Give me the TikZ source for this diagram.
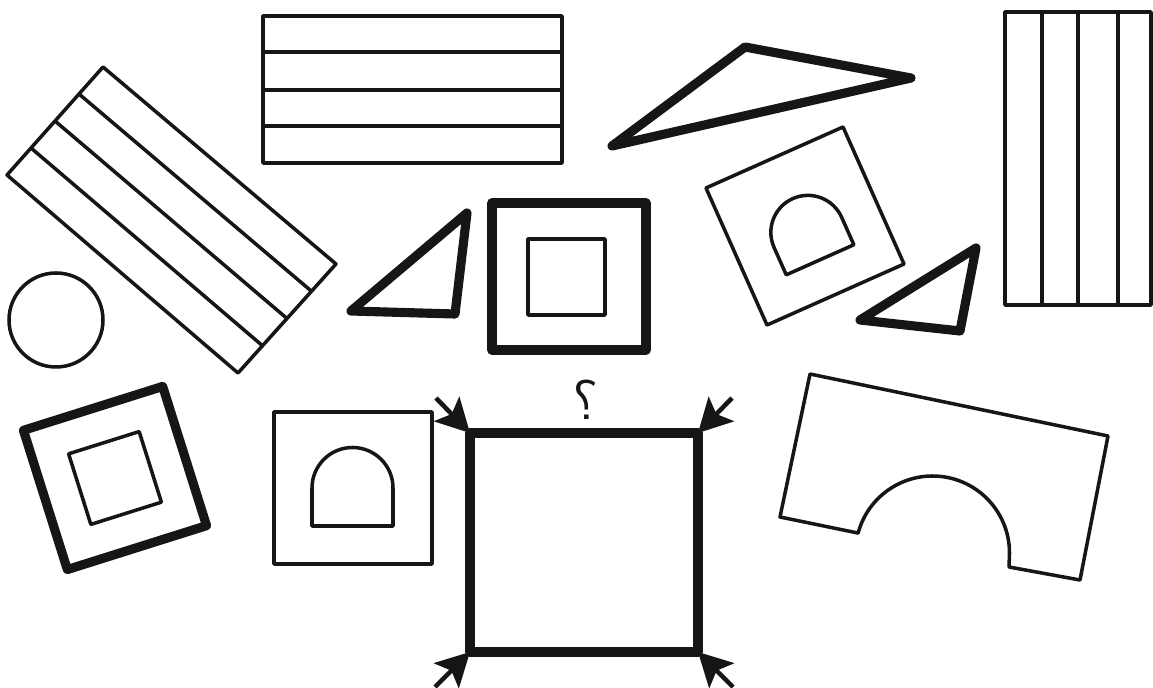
\documentclass[tikz,border=0pt]{standalone}
\usetikzlibrary{arrows.meta,calc}
\begin{document}
\begin{tikzpicture}[x=0.02cm,y=-0.02cm,line join=round]
  \definecolor{ink}{HTML}{161616}
  \path[use as bounding box] (0,0) rectangle (1153,688);
  \tikzset{outline/.style={draw=ink,line width=2pt},
           heavy/.style={draw=ink,line width=5.2pt},
           pointer/.style={ink,line width=2.6pt,-{Stealth[length=19pt,width=20pt,inset=4pt]}}}

  % Striped boards: a tilted one, a flat one and an upright one.
  \coordinate (pa) at (103,67);
  \coordinate (pb) at (336,264);
  \coordinate (pc) at (238,373);
  \coordinate (pd) at (7,175);
  \draw[outline] (pa) -- (pb) -- (pc) -- (pd) -- cycle;
  \foreach \f in {0.25,0.5,0.75}
    \draw[outline] ($(pa)!\f!(pd)$) -- ($(pb)!\f!(pc)$);
  \draw[outline] (263,16) rectangle (562,163);
  \foreach \y in {52,90,126}
    \draw[outline] (263,\y) -- (562,\y);
  \draw[outline] (1005,12) rectangle (1151,305);
  \foreach \x in {1042,1078,1118}
    \draw[outline] (\x,12) -- (\x,305);

  \draw[outline] (56,320) circle (47);

  % Triangles
  \draw[heavy] (612,146) -- (745,47) -- (911,78) -- cycle;
  \draw[heavy] (351,311) -- (467,213) -- (455,314) -- cycle;
  \draw[heavy] (860,320) -- (976,248) -- (960,331) -- cycle;

  % Framed squares
  \draw[heavy] (492,203) rectangle (646,350);
  \draw[outline] (528,239) rectangle (605,315);
  \begin{scope}[shift={(115,478)},rotate=17.5]
    \draw[heavy] (-73,-73) rectangle (73,73);
    \draw[outline] (-37,-37) rectangle (37,37);
  \end{scope}

  % Squares with an arched window
  \draw[outline] (274,412) rectangle (432,564);
  \draw[outline] (312,526) -- (312,488) arc[start angle=180,end angle=360,radius=40.5]
    -- (393,526) -- cycle;
  \begin{scope}[shift={(805,226)},rotate=24]
    \draw[outline] (-75,-75) rectangle (75,75);
    \draw[outline] (-37,37) -- (-37,7) arc[start angle=180,end angle=360,radius=37]
      -- (37,37) -- cycle;
  \end{scope}

  % Bridge block
  \draw[outline] (810,374) -- (1108,436) -- (1080,580) -- (1009,567) -- (1009.5,553)
    arc[start angle=0,end angle=-165,radius=77] -- (780,517) -- cycle;

  % The square in question
  \coordinate (tl) at (470,433);
  \coordinate (tr) at (698,433);
  \coordinate (bl) at (470,652);
  \coordinate (br) at (698,652);
  \draw[heavy] (tl) rectangle (br);
  \coordinate (tlx) at (436,398);
  \coordinate (trx) at (732,398);
  \coordinate (blx) at (435,687);
  \coordinate (brx) at (733,687);
  \draw[pointer] (tlx) -- (tl);
  \draw[pointer] (trx) -- (tr);
  \draw[pointer] (blx) -- (bl);
  \draw[pointer] (brx) -- (br);
  \node[font=\sffamily\fontsize{32}{32}\selectfont,text=ink,inner sep=0pt] (ask) at (586,400) {\reflectbox{?}};
\end{tikzpicture}
\end{document}
